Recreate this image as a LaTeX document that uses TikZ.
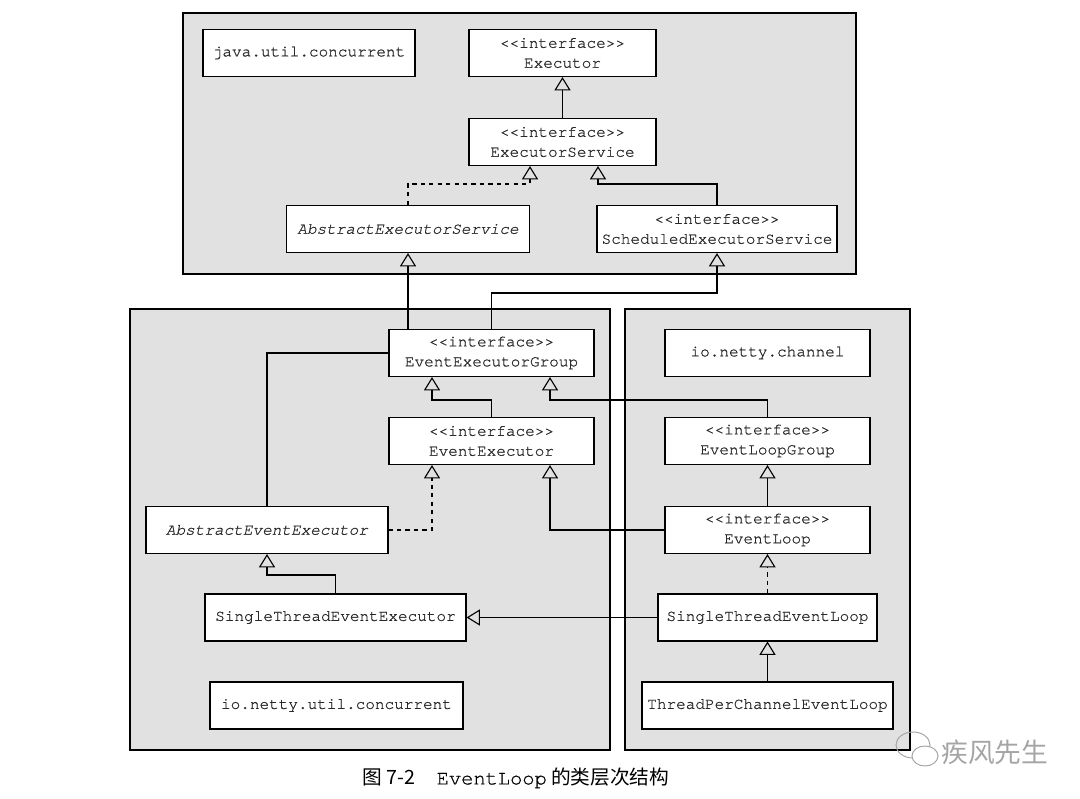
\documentclass[tikz,border=0pt]{standalone}
\usepackage{fontspec}
\usepackage{tikz}
\usetikzlibrary{arrows.meta}
\usetikzlibrary{positioning}
\setmonofont[FakeBold=0.7]{TeX Gyre Cursor}
\newfontfamily\cjk{Noto Sans CJK SC}
\definecolor{pkgfill}{RGB}{225,225,225}
\definecolor{wmgray}{RGB}{165,165,165}
\definecolor{ink}{RGB}{40,40,40}
\tikzstyle{inherit} = [line width=0.8pt,-{Triangle[open,width=11.5pt,length=9.5pt,line width=0.8pt]}]
\tikzstyle{assoc} = [line width=0.8pt]
\tikzstyle{pkg} = [draw=black, line width=0.8pt, fill=pkgfill]
\tikzstyle{cls} = [
    rectangle, minimum width=5.125cm, minimum height=1.175cm, text centered, inner sep=0pt,
    draw=black, line width=0.8pt, fill=white, align=center, text=ink,
    font=\ttfamily\fontsize{11.4}{14.2}\selectfont]

\begin{document}
\begin{tikzpicture}[x=0.025cm, y=-0.025cm]
\useasboundingbox (0,0) rectangle (1080,799);

% packages
\draw [pkg] (183,13) rectangle (856,274);
\draw [pkg] (130,309) rectangle (610,750);
\draw [pkg] (625,309) rectangle (910,750);

% java.util.concurrent
\node (juc) [cls, minimum width=5.3cm] at (309,53) {java.util.concurrent};
\node (exe) [cls, minimum width=4.675cm] at (562.5,53) {<{}<interface>{}>\\Executor};
\node (es) [cls, minimum width=4.675cm] at (562.5,142) {<{}<interface>{}>\\ExecutorService};
\node (aes) [cls, minimum width=6.075cm] at (408,229) {\itshape AbstractExecutorService};
\node (ses) [cls, minimum width=6.0cm] at (717,229) {<{}<interface>{}>\\ScheduledExecutorService};

% io.netty.util.concurrent
\node (eeg) [cls] at (491.5,353) {<{}<interface>{}>\\EventExecutorGroup};
\node (ee) [cls] at (491.5,441) {<{}<interface>{}>\\EventExecutor};
\node (aee) [cls, minimum width=6.05cm] at (267,530) {\itshape AbstractEventExecutor};
\node (stee) [cls, minimum width=6.525cm] at (335.5,617.5) {SingleThreadEventExecutor};
\node (nuc) [cls, minimum width=6.325cm] at (336.5,705.5) {io.netty.util.concurrent};

% io.netty.channel
\node (nch) [cls] at (767.5,353) {io.netty.channel};
\node (elg) [cls] at (767.5,441) {<{}<interface>{}>\\EventLoopGroup};
\node (el) [cls] at (767.5,530) {<{}<interface>{}>\\EventLoop};
\node (stel) [cls, minimum width=5.475cm] at (767.5,617.5) {SingleThreadEventLoop};
\node (tpcel) [cls, minimum width=6.275cm] at (767.5,705.5) {ThreadPerChannelEventLoop};

% bend points
\coordinate (b1) at (530,184);
\coordinate (b2) at (598,184);
\coordinate (b3) at (717,293);
\coordinate (b4) at (432,400);
\coordinate (b5) at (550,400);
\coordinate (b6) at (267,575);

\draw [inherit] (es) -- (exe);
\draw [inherit, dashed] (aes.north) |- (b1) -- (b1 |- es.south);
\draw [inherit] (ses.north) |- (b2) -- (b2 |- es.south);
\draw [inherit] (eeg.north -| aes) -- (aes.south);
\draw [inherit] (eeg.north) |- (b3) -- (ses.south);
\draw [assoc] (aee.north) |- (eeg.west);
\draw [inherit] (ee.north) |- (b4) -- (b4 |- eeg.south);
\draw [inherit] (elg.north) |- (b5) -- (b5 |- eeg.south);
\draw [inherit, dashed] (aee.east) -| (b4 |- ee.south);
\draw [inherit] (el.west) -| (b5 |- ee.south);
\draw [inherit] (el) -- (elg);
\draw [inherit, dashed] (stel) -- (el);
\draw [inherit] (stee.north) |- (b6) -- (aee.south);
\draw [inherit] (stel) -- (stee);
\draw [inherit] (tpcel) -- (stel);

% caption
\node (cap) [anchor=west, inner sep=0pt] at (362,778)
    {\cjk\fontsize{14}{16}\selectfont 图 7-2\hspace{1.1em}{\ttfamily\fontsize{14.5}{16}\selectfont EventLoop} 的类层次结构};

% watermark
\draw [wmgray, line width=0.7pt] (913,745) ellipse [x radius=17, y radius=13];
\draw [wmgray, line width=0.7pt, fill=white] (925,756) ellipse [x radius=13, y radius=10];
\node (wm) [anchor=west, inner sep=0pt, text=wmgray] at (941,752)
    {\cjk\fontsize{19}{22}\selectfont 疾风先生};
\end{tikzpicture}
\end{document}
